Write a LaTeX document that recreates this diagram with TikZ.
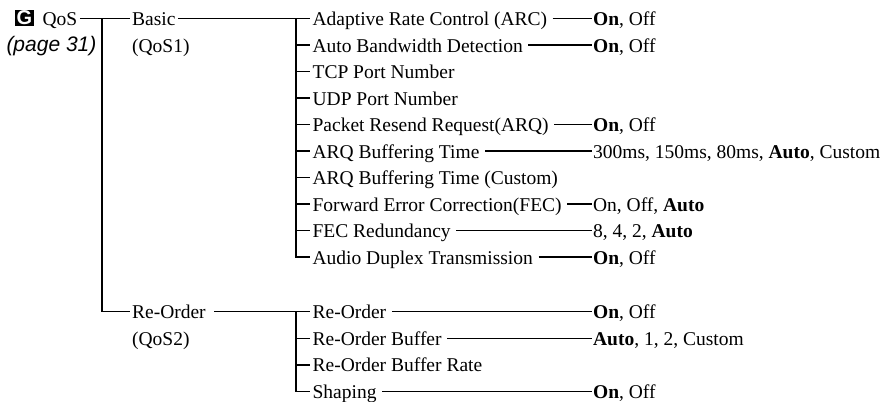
\documentclass[tikz,border=0pt]{standalone}
\usepackage{fontspec}
\setmainfont{Liberation Serif}
\newfontfamily\pagefont{Liberation Sans}

\begin{document}
\begin{tikzpicture}[x=0.5pt,y=-0.5pt,line width=0.6pt,
  lbl/.style={anchor=west,inner xsep=1pt,inner ysep=0pt,text height=7.5pt,text depth=0.5pt,font=\fontsize{9.75}{11}\selectfont},
  val/.style={lbl,inner xsep=0.5pt},
  link/.style={shorten <=1.5pt}]
  \useasboundingbox (0,0) rectangle (880,402);
  \node[fill=black,text=white,font=\pagefont\bfseries\fontsize{10}{10}\selectfont,minimum width=9.5pt,minimum height=8pt,inner sep=0pt] (tag) at (24.5,18) {G};
  \node[lbl] (qos) at (40,18.5) {QoS};
  \node[lbl,anchor=east,font=\pagefont\itshape\fontsize{10.5}{12}\selectfont] (page) at (99,44.5) {(page 31)};
  \node[lbl] (basic) at (129.5,18.5) {Basic};
  \node[lbl] (qos1) at (129.5,45) {(QoS1)};
  \node[lbl] (reorder) at (129.5,311.7) {Re-Order};
  \node[lbl] (qos2) at (129.5,338.3) {(QoS2)};
  \coordinate (qspine) at (102,18.5);
  \coordinate (bspine) at (296,18.5);
  \coordinate (rspine) at (296,311.7);
  \coordinate (valx) at (591.5,0);
  \foreach \n/\t [count=\i from 0] in {arc/Adaptive Rate Control (ARC), abd/Auto Bandwidth Detection,
      tcp/TCP Port Number, udp/UDP Port Number, arq/Packet Resend Request(ARQ), arqt/ARQ Buffering Time,
      arqc/ARQ Buffering Time (Custom), fec/Forward Error Correction(FEC), fecr/FEC Redundancy,
      adt/Audio Duplex Transmission}
    \node[lbl] (\n) at (310,{18.5+26.5*\i}) {\t};
  \foreach \n/\t [count=\i from 0] in {ro/Re-Order, rob/Re-Order Buffer, robr/Re-Order Buffer Rate, shp/Shaping}
    \node[lbl] (\n) at (310,{311.7+26.6*\i}) {\t};
  \foreach \n/\v in {arc/{\textbf{On}, Off}, abd/{\textbf{On}, Off}, arq/{\textbf{On}, Off},
      arqt/{300ms, 150ms, 80ms, \textbf{Auto}, Custom}, fec/{On, Off, \textbf{Auto}},
      fecr/{8, 4, 2, \textbf{Auto}}, adt/{\textbf{On}, Off}, ro/{\textbf{On}, Off},
      rob/{\textbf{Auto}, 1, 2, Custom}, shp/{\textbf{On}, Off}}
  {
    \node[val] (\n-v) at (valx |- \n.west) {\v};
    \draw[link] (\n) -- (\n-v);
  }
  \draw (qos) -- (basic);
  \draw (qspine) |- (reorder);
  \draw (basic) -- (arc);
  \foreach \n in {abd,tcp,udp,arq,arqt,arqc,fec,fecr,adt}
    \draw (bspine) |- (\n);
  \draw[shorten <=3pt] (reorder) -- (ro);
  \foreach \n in {rob,robr,shp}
    \draw (rspine) |- (\n);
\end{tikzpicture}
\end{document}
